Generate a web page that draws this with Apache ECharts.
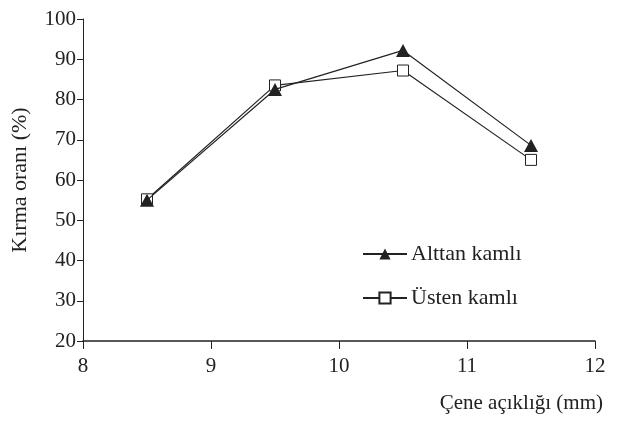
<!DOCTYPE html>
<html>
<head>
<meta charset="utf-8">
<script src="https://cdn.jsdelivr.net/npm/echarts@6/dist/echarts.min.js"></script>
<style>
  html, body { margin: 0; padding: 0; background: #fff; }
  #chart { width: 618px; height: 421px; }
</style>
</head>
<body>
<div id="chart"></div>
<script>
// Jaw opening (mm) vs. crushing ratio (%)
const jawOpening = [8.5, 9.5, 10.5, 11.5];
const alttanKamli = [55, 82.5, 92.2, 68.6];
const ustenKamli = [55.2, 83.5, 87.2, 65];
const xTicks = [8, 9, 10, 11, 12];
const yTicks = [20, 30, 40, 50, 60, 70, 80, 90, 100];

const serif = '"Liberation Serif", "DejaVu Serif", serif';
const ink = '#222';

const chart = echarts.init(document.getElementById('chart'));
chart.setOption({
  animation: false,
  backgroundColor: '#fff',
  textStyle: { fontFamily: serif, color: ink },
  grid: { left: 83, right: 23, top: 19, bottom: 80, containLabel: false, outerBoundsMode: 'none' },
  legend: {
    orient: 'vertical',
    left: 357,
    top: 238,
    itemWidth: 44,
    itemHeight: 14,
    itemGap: 22,
    textStyle: { fontFamily: serif, fontSize: 22, color: ink, padding: [0, 0, 0, -1] },
    data: ['Alttan kamlı', 'Üsten kamlı']
  },
  xAxis: {
    type: 'value',
    min: xTicks[0],
    max: xTicks[xTicks.length - 1],
    interval: 1,
    name: 'Çene açıklığı (mm)',
    nameLocation: 'end',
    nameGap: 0,
    nameTextStyle: {
      fontFamily: serif, fontSize: 21, color: ink,
      align: 'right', verticalAlign: 'top', padding: [52, -8, 0, 0]
    },
    axisLine: { lineStyle: { color: ink, width: 1.5 } },
    axisTick: { inside: false, length: 8, lineStyle: { color: ink, width: 1 } },
    axisLabel: { fontFamily: serif, fontSize: 21, color: ink, margin: 15 },
    splitLine: { show: false }
  },
  yAxis: {
    type: 'value',
    min: yTicks[0],
    max: yTicks[yTicks.length - 1],
    interval: 10,
    name: 'Kırma oranı (%)',
    nameLocation: 'middle',
    nameRotate: 90,
    nameGap: 52,
    nameTextStyle: { fontFamily: serif, fontSize: 22, color: ink },
    axisLine: { show: true, lineStyle: { color: ink, width: 1 } },
    axisTick: { show: true, inside: false, length: 6, lineStyle: { color: ink } },
    axisLabel: { fontFamily: serif, fontSize: 21, color: ink, margin: 7 },
    splitLine: { show: false }
  },
  series: [
    {
      name: 'Alttan kamlı',
      type: 'line',
      data: jawOpening.map((x, i) => [x, alttanKamli[i]]),
      symbol: 'triangle',
      symbolSize: [14, 13],
      itemStyle: { color: ink },
      lineStyle: { color: ink, width: 1.2 },
      z: 3
    },
    {
      name: 'Üsten kamlı',
      type: 'line',
      data: jawOpening.map((x, i) => [x, ustenKamli[i]]),
      symbol: 'rect',
      symbolSize: 11,
      itemStyle: { color: '#fff', borderColor: ink, borderWidth: 1 },
      lineStyle: { color: ink, width: 1.2 },
      z: 2
    }
  ]
});
</script>
</body>
</html>
